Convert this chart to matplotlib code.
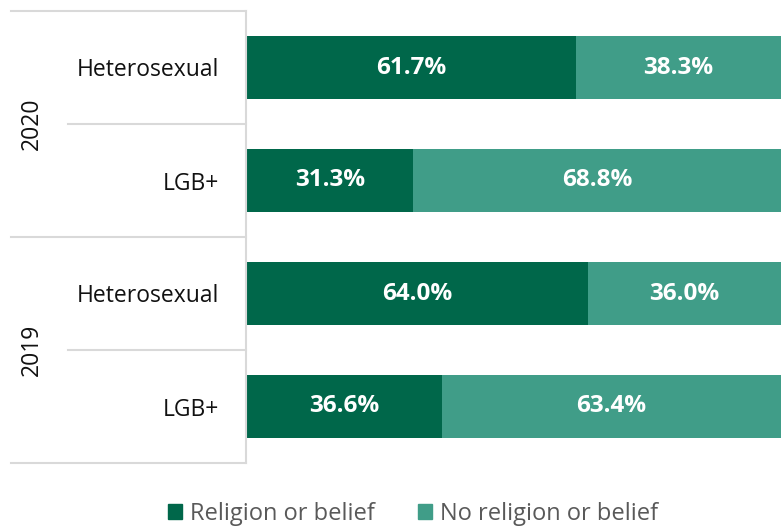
import matplotlib.pyplot as plt
from matplotlib.patches import Patch

plt.rcParams['font.family'] = ['Open Sans', 'DejaVu Sans']

# data
years = ['2020', '2019']
groups = ['Heterosexual', 'LGB+', 'Heterosexual', 'LGB+']
religion = [61.7, 31.3, 64.0, 36.6]
no_religion = [38.3, 68.8, 36.0, 63.4]
series_names = ['Religion or belief', 'No religion or belief']

dark = '#00674a'
light = '#409d88'
grid_col = '#d9d9d9'

fig = plt.figure(figsize=(7.81, 5.28), dpi=100)
ax = fig.add_axes([246 / 781, 65 / 528, 535 / 781, 452 / 528])

pos = list(range(len(groups)))
b1 = ax.barh(pos, religion, height=0.55, color=dark)
b2 = ax.barh(pos, no_religion, left=religion, height=0.55, color=light)

for bars, vals in ((b1, religion), (b2, no_religion)):
    for bar, v in zip(bars, vals):
        ax.text(bar.get_x() + bar.get_width() / 2, bar.get_y() + bar.get_height() / 2,
                f'{v:.1f}%', ha='center', va='center', color='white',
                fontsize=17.5, fontweight='bold')

ax.set_xlim(0, 100)
ax.set_ylim(3.5, -0.5)
ax.set_xticks([])
ax.set_yticks(pos)
ax.set_yticklabels(groups, fontsize=16.5, color='#111111')
ax.tick_params(axis='y', length=0, pad=19)
for s in ['top', 'right', 'bottom']:
    ax.spines[s].set_visible(False)
ax.spines['left'].set_color(grid_col)
ax.spines['left'].set_linewidth(1.5)

# category separators
tr = ax.get_yaxis_transform()
x_outer = (11 - 246) / 535
x_inner = (68 - 246) / 535
for y, x0 in ((-0.5, x_outer), (0.5, x_inner), (1.5, x_outer), (2.5, x_inner), (3.5, x_outer)):
    ax.plot([x0, 0], [y, y], transform=tr, color=grid_col, lw=1.5, clip_on=False)

# year labels
for i, yr in enumerate(years):
    ax.text((32 - 246) / 535, 2 * i + 0.5, yr, transform=tr, rotation=90,
            ha='center', va='center', fontsize=16.5, color='#111111')

handles = [Patch(color=dark), Patch(color=light)]
fig.legend(handles, series_names, loc='center', bbox_to_anchor=(413 / 781, 14 / 528),
           ncol=2, frameon=False, fontsize=17, labelcolor='#595959',
           handlelength=0.6, handleheight=0.6, handletextpad=0.35, columnspacing=1.8,
           borderpad=0.1)

fig.savefig('out.png', dpi=100)
